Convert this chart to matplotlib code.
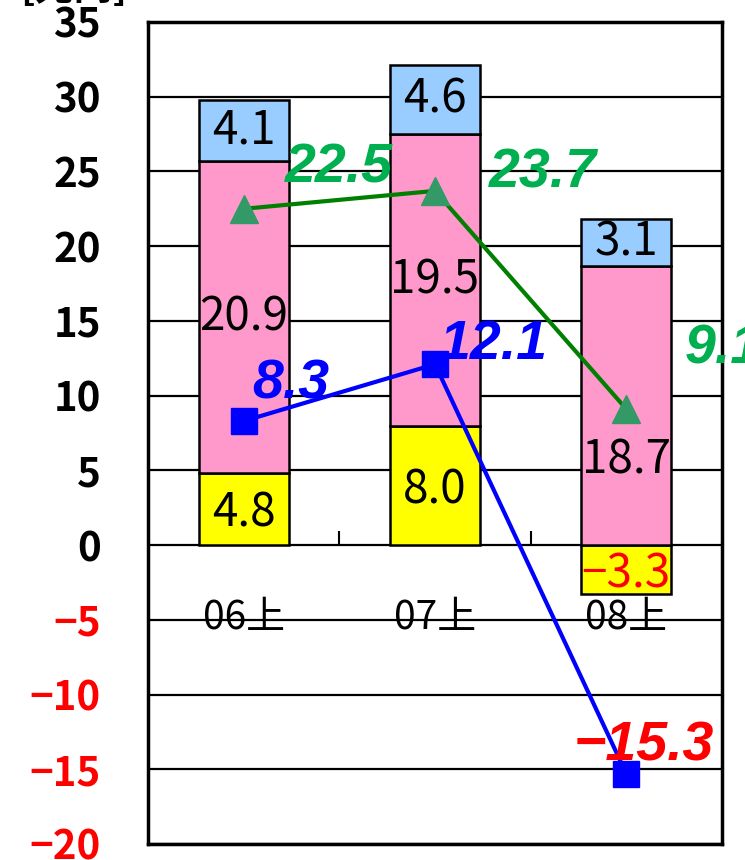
import numpy as np
import matplotlib
matplotlib.use("Agg")
import matplotlib.pyplot as plt

plt.rcParams['font.family'] = ['Noto Sans CJK JP', 'DejaVu Sans']

# data
cats = ["06上", "07上", "08上"]
yellow = [4.8, 8.0, -3.3]
pink = [20.9, 19.5, 18.7]
blue_bar = [4.1, 4.6, 3.1]
green_line = [22.5, 23.7, 9.1]
blue_line = [8.3, 12.1, -15.3]
yticks = [-20, -15, -10, -5, 0, 5, 10, 15, 20, 25, 30, 35]

c_yellow = "#FFFF00"
c_pink = "#FF99CC"
c_lblue = "#99CCFF"

fig = plt.figure(figsize=(7.45, 8.6), dpi=100)
ax = fig.add_axes([148 / 745, 1 - 844 / 860, 574 / 745, 822 / 860])

x = np.arange(len(cats))
yellow = np.array(yellow)
pink = np.array(pink)
blue_bar = np.array(blue_bar)
pink_bottom = np.maximum(yellow, 0)
blue_bottom = pink_bottom + pink

w = 0.47
ax.bar(x, yellow, w, color=c_yellow, edgecolor="black", linewidth=1.8, zorder=3)
ax.bar(x, pink, w, bottom=pink_bottom, color=c_pink, edgecolor="black", linewidth=1.8, zorder=3)
ax.bar(x, blue_bar, w, bottom=blue_bottom, color=c_lblue, edgecolor="black", linewidth=1.8, zorder=3)

# labels inside bars
for i in range(len(cats)):
    yc = yellow[i] / 2
    col = "red" if yellow[i] < 0 else "black"
    ax.text(x[i], yc - 0.3, f"{yellow[i]:.1f}".replace("-", "−"), ha="center", va="center",
            fontsize=33, color=col, zorder=5)
    pc = pink_bottom[i] + pink[i] / 2
    if i == 2:
        pc = 5.7
    ax.text(x[i], pc, f"{pink[i]:.1f}", ha="center", va="center", fontsize=33, zorder=5)
    ax.text(x[i], blue_bottom[i] + blue_bar[i] / 2, f"{blue_bar[i]:.1f}", ha="center",
            va="center", fontsize=33, zorder=5)

# lines
ax.plot(x, green_line, color="#008000", lw=3, zorder=6)
ax.plot(x, green_line, ls="none", marker="^", ms=20, color="#339966", zorder=7)
ax.plot(x, blue_line, color="#0000FF", lw=3, marker="s", ms=19, zorder=7)

lab_font = dict(family="Liberation Sans", fontsize=40, fontweight="bold", style="italic",
                ha="center", va="center", textcoords="offset pixels", zorder=8,
                annotation_clip=False)
green_off = [(95, 40), (108, 17), (97, 60)]
for i, v in enumerate(green_line):
    ax.annotate(f"{v:.1f}", (x[i], v), xytext=green_off[i], color="#00B050", **lab_font)
blue_off = [(47, 37), (58, 19), (17, 27)]
for i, v in enumerate(blue_line):
    col = "red" if v < 0 else "#0000FF"
    ax.annotate(f"{v:.1f}".replace("-", "−"), (x[i], v), xytext=blue_off[i], color=col,
                **lab_font)

ax.set_xlim(-0.5, 2.5)
ax.set_ylim(-20, 35)
ax.set_yticks(yticks)
ax.set_yticklabels([str(t).replace("-", "−") for t in yticks], fontsize=29, fontweight="bold")
for lab, t in zip(ax.get_yticklabels(), yticks):
    if t < 0:
        lab.set_color("red")
ax.tick_params(axis="y", length=0, pad=34)
ax.set_xticks([])
ax.yaxis.grid(True, color="black", lw=1.6, zorder=1)
ax.set_axisbelow(True)
for s in ax.spines.values():
    s.set_linewidth(2.5)

# category axis along zero line
sec = ax.secondary_xaxis(20 / 55)
sec.spines["bottom"].set_visible(False)
sec.set_xticks(x)
sec.set_xticklabels(cats, fontsize=28)
sec.set_xticks([0.5, 1.5], minor=True)
sec.tick_params(axis="x", which="major", length=0, pad=38)
sec.tick_params(axis="x", which="minor", direction="in", length=10, width=1.5)

fig.text(20 / 745, 1 - 8 / 860, "[兆円]", fontsize=28, fontweight="bold", va="bottom")

fig.savefig("out.png", dpi=100)
